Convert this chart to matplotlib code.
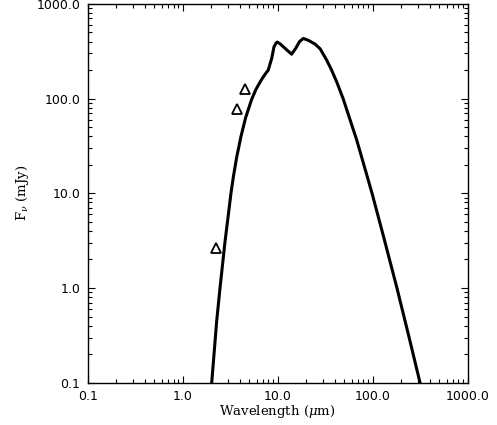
import matplotlib
matplotlib.use("Agg")
import matplotlib.pyplot as plt
from matplotlib.ticker import FixedLocator, FixedFormatter, LogLocator, NullFormatter

# SED model curve
model_wavelength = [2.02, 2.28, 2.47, 2.79, 3.02, 3.22, 3.41, 3.70, 4.11, 4.6, 5.32, 5.9,
                    6.79, 7.5, 7.96, 8.65, 9.14, 9.6, 9.9, 10.6, 12.3, 14.0, 15.5, 17.0, 18.6,
                    21.0, 24.7, 28.0, 32.8, 36.5, 41.8, 48.8, 57.7, 67.9, 79.6, 98.4,
                    130.0, 180.0, 240.0, 315.0]
model_flux = [0.1, 0.45, 1.0, 3.1, 5.9, 10.0, 14.8, 24.0, 40.0, 63.0, 98.0, 125.0,
              160.0, 185.0, 200.0, 266.0, 351.0, 385.0, 395.0, 378.0, 330.0, 294.0, 340.0, 400.0, 431.0,
              412.0, 376.0, 335.0, 254.0, 205.0, 150.0, 100.0, 60.0, 36.5, 21.0, 10.0,
              3.5, 1.0, 0.31, 0.1]

# Photometry points (triangles)
phot_wavelength = [2.22, 3.76, 4.53]
phot_flux = [2.62, 76.7, 125.0]

x_ticks = [0.1, 1.0, 10.0, 100.0, 1000.0]
x_tick_labels = ["0.1", "1.0", "10.0", "100.0", "1000.0"]
y_ticks = [0.1, 1.0, 10.0, 100.0, 1000.0]
y_tick_labels = ["0.1", "1.0", "10.0", "100.0", "1000.0"]

plt.rcParams['mathtext.fontset'] = 'dejavuserif'

fig = plt.figure(figsize=(4.97, 4.25), dpi=100)
ax = fig.add_axes([0.1765, 0.0995, 0.941 - 0.1765, 0.991 - 0.0995])

ax.plot(model_wavelength, model_flux, color='black', lw=2.2, solid_joinstyle='round')
ax.plot(phot_wavelength, phot_flux, linestyle='none', marker='^', markersize=6.5,
        markerfacecolor='none', markeredgecolor='black', markeredgewidth=1.3)

ax.set_xscale('log')
ax.set_yscale('log')
ax.set_xlim(0.1, 1000)
ax.set_ylim(0.1, 1000)

ax.xaxis.set_major_locator(FixedLocator(x_ticks))
ax.xaxis.set_major_formatter(FixedFormatter(x_tick_labels))
ax.yaxis.set_major_locator(FixedLocator(y_ticks))
ax.yaxis.set_major_formatter(FixedFormatter(y_tick_labels))
ax.xaxis.set_minor_locator(LogLocator(base=10, subs=range(2, 10), numticks=20))
ax.yaxis.set_minor_locator(LogLocator(base=10, subs=range(2, 10), numticks=20))
ax.xaxis.set_minor_formatter(NullFormatter())
ax.yaxis.set_minor_formatter(NullFormatter())

ax.tick_params(which='both', direction='in', top=True, right=True, width=0.8, color='black')
ax.tick_params(which='major', length=5.2, labelsize=9, pad=5.5)
ax.tick_params(which='minor', length=3.2)
for t in ax.get_xticklabels() + ax.get_yticklabels():
    t.set_fontfamily('DejaVu Sans')
for s in ax.spines.values():
    s.set_linewidth(1.0)

ax.set_xlabel(r'Wavelength ($\mu$m)', fontsize=9.5, family='DejaVu Serif', labelpad=0)
ax.set_ylabel(r'F$_\nu$ (mJy)', fontsize=9.5, family='DejaVu Serif', labelpad=3.5)

fig.savefig('out.png', dpi=100)
